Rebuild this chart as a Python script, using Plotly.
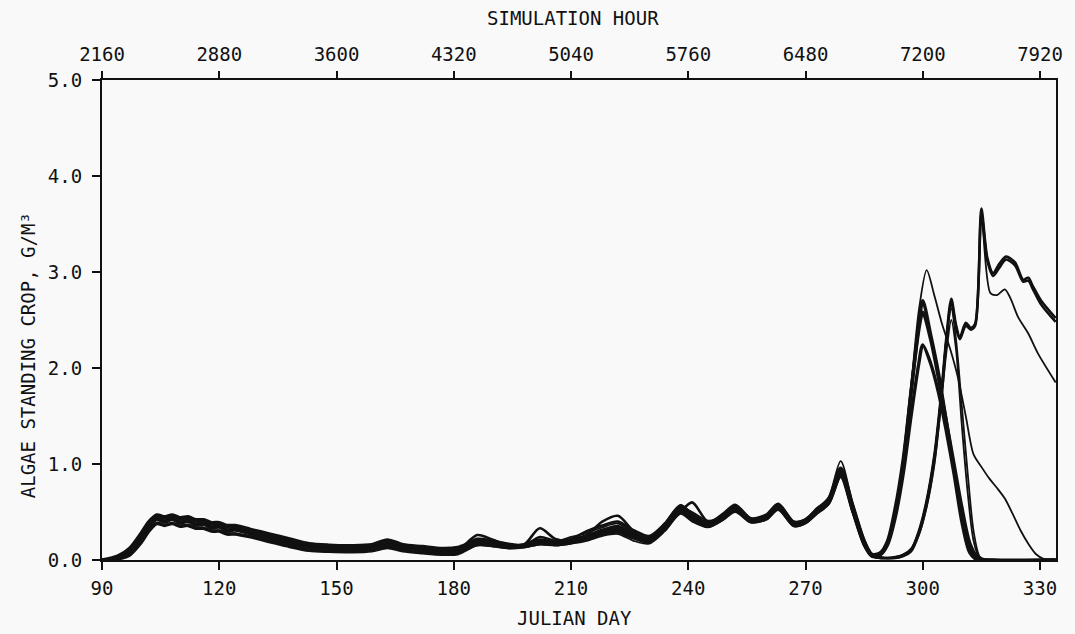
import plotly.graph_objects as go

# Julian days shared by every run up to the late-October crash
BUNDLE_DAYS = [90, 94, 97, 100, 102, 104, 106, 108, 110, 112, 114, 116, 118, 120, 122, 124,
               128, 133, 138, 143, 148, 154, 159, 163, 167, 172, 177, 181, 186, 190, 194, 198,
               202, 206, 210, 214, 218, 222, 226, 230, 234, 238, 241, 245, 249, 252, 256, 260,
               263, 267, 270, 273, 276, 279, 282, 285, 287]

# Algae standing crop (g/m3) for each simulation run, spring through early autumn
A1_BUNDLE = [0.00, 0.02, 0.08, 0.23, 0.35, 0.43, 0.40, 0.43, 0.39, 0.41, 0.37, 0.38, 0.34, 0.35, 0.31, 0.32,
             0.28, 0.23, 0.18, 0.14, 0.125, 0.12, 0.13, 0.17, 0.13, 0.11, 0.09, 0.10, 0.18, 0.16, 0.14, 0.15,
             0.19, 0.17, 0.19, 0.23, 0.29, 0.32, 0.25, 0.21, 0.34, 0.53, 0.44, 0.36, 0.45, 0.54, 0.41, 0.45,
             0.56, 0.37, 0.40, 0.51, 0.62, 0.92, 0.55, 0.18, 0.05]
A2_BUNDLE = [0.00, 0.04, 0.12, 0.28, 0.40, 0.47, 0.45, 0.47, 0.44, 0.45, 0.42, 0.42, 0.39, 0.39, 0.36, 0.36,
             0.32, 0.27, 0.22, 0.17, 0.155, 0.15, 0.16, 0.21, 0.16, 0.14, 0.12, 0.13, 0.20, 0.17, 0.15, 0.16,
             0.21, 0.18, 0.21, 0.25, 0.31, 0.35, 0.27, 0.23, 0.37, 0.56, 0.46, 0.38, 0.48, 0.57, 0.43, 0.47,
             0.58, 0.39, 0.42, 0.53, 0.64, 0.95, 0.58, 0.20, 0.06]
A3_BUNDLE = [0.00, 0.01, 0.05, 0.18, 0.30, 0.38, 0.36, 0.38, 0.35, 0.36, 0.33, 0.33, 0.30, 0.30, 0.27, 0.27,
             0.24, 0.19, 0.14, 0.10, 0.09, 0.085, 0.095, 0.13, 0.095, 0.075, 0.06, 0.065, 0.16, 0.15, 0.13, 0.14,
             0.17, 0.16, 0.18, 0.22, 0.27, 0.29, 0.23, 0.19, 0.32, 0.50, 0.42, 0.35, 0.43, 0.52, 0.40, 0.43,
             0.54, 0.36, 0.39, 0.50, 0.60, 0.88, 0.52, 0.16, 0.04]
A4_BUNDLE = [0.00, 0.02, 0.09, 0.24, 0.36, 0.44, 0.41, 0.44, 0.40, 0.42, 0.38, 0.39, 0.35, 0.36, 0.32, 0.33,
             0.29, 0.23, 0.18, 0.14, 0.13, 0.12, 0.13, 0.18, 0.13, 0.11, 0.09, 0.10, 0.19, 0.16, 0.14, 0.15,
             0.20, 0.17, 0.20, 0.24, 0.30, 0.33, 0.26, 0.22, 0.36, 0.55, 0.45, 0.37, 0.46, 0.55, 0.42, 0.46,
             0.57, 0.38, 0.41, 0.52, 0.66, 1.03, 0.60, 0.22, 0.06]
B1_BUNDLE = [0.00, 0.02, 0.08, 0.22, 0.34, 0.42, 0.39, 0.42, 0.38, 0.40, 0.36, 0.37, 0.33, 0.34, 0.30, 0.31,
             0.27, 0.22, 0.17, 0.13, 0.12, 0.115, 0.125, 0.16, 0.125, 0.105, 0.085, 0.10, 0.26, 0.21, 0.15, 0.16,
             0.33, 0.22, 0.20, 0.26, 0.40, 0.46, 0.30, 0.20, 0.33, 0.50, 0.60, 0.40, 0.44, 0.53, 0.41, 0.44,
             0.55, 0.36, 0.39, 0.50, 0.60, 0.90, 0.52, 0.16, 0.04]
B2_BUNDLE = [0.00, 0.03, 0.11, 0.27, 0.39, 0.46, 0.43, 0.46, 0.42, 0.44, 0.40, 0.40, 0.37, 0.37, 0.34, 0.34,
             0.31, 0.25, 0.20, 0.16, 0.145, 0.14, 0.15, 0.20, 0.15, 0.13, 0.11, 0.12, 0.22, 0.20, 0.17, 0.15,
             0.24, 0.20, 0.22, 0.30, 0.36, 0.40, 0.31, 0.25, 0.38, 0.57, 0.48, 0.39, 0.47, 0.56, 0.43, 0.46,
             0.58, 0.40, 0.42, 0.54, 0.63, 0.96, 0.57, 0.19, 0.05]
B3_BUNDLE = [0.00, 0.01, 0.06, 0.19, 0.31, 0.39, 0.37, 0.39, 0.36, 0.37, 0.34, 0.34, 0.31, 0.31, 0.28, 0.28,
             0.25, 0.20, 0.15, 0.11, 0.10, 0.095, 0.105, 0.14, 0.105, 0.085, 0.07, 0.075, 0.15, 0.14, 0.12, 0.13,
             0.16, 0.15, 0.17, 0.20, 0.25, 0.27, 0.20, 0.17, 0.30, 0.48, 0.40, 0.34, 0.42, 0.50, 0.39, 0.42,
             0.52, 0.35, 0.38, 0.48, 0.58, 0.86, 0.50, 0.15, 0.04]
B4_BUNDLE = [0.00, 0.02, 0.08, 0.23, 0.35, 0.43, 0.40, 0.43, 0.39, 0.41, 0.37, 0.37, 0.34, 0.34, 0.31, 0.31,
             0.28, 0.22, 0.17, 0.135, 0.12, 0.12, 0.13, 0.17, 0.13, 0.11, 0.09, 0.10, 0.21, 0.19, 0.16, 0.14,
             0.18, 0.19, 0.24, 0.28, 0.34, 0.38, 0.29, 0.23, 0.36, 0.54, 0.50, 0.41, 0.46, 0.55, 0.42, 0.45,
             0.57, 0.38, 0.41, 0.52, 0.61, 0.93, 0.54, 0.17, 0.05]
B5_BUNDLE = [0.00, 0.02, 0.08, 0.22, 0.34, 0.42, 0.40, 0.42, 0.38, 0.40, 0.36, 0.37, 0.33, 0.34, 0.30, 0.31,
             0.27, 0.22, 0.17, 0.13, 0.12, 0.115, 0.125, 0.16, 0.12, 0.10, 0.08, 0.09, 0.17, 0.15, 0.13, 0.14,
             0.18, 0.16, 0.18, 0.21, 0.28, 0.30, 0.24, 0.20, 0.33, 0.52, 0.43, 0.35, 0.44, 0.53, 0.40, 0.44,
             0.55, 0.37, 0.40, 0.51, 0.61, 0.91, 0.53, 0.17, 0.04]

# Autumn blooms: runs whose bloom peaks near day 300
A1_FALL_DAYS = [289, 291, 293, 295, 297, 299, 300, 302, 304, 306, 308, 310, 312, 314, 318, 334]
A1_FALL = [0.06, 0.18, 0.50, 1.00, 1.75, 2.45, 2.70, 2.35, 1.95, 1.45, 0.95, 0.45, 0.10, 0.01, 0.0, 0.0]
A2_FALL_DAYS = [289, 291, 293, 295, 297, 299, 300, 302, 304, 306, 308, 310, 312, 314, 316, 334]
A2_FALL = [0.07, 0.20, 0.55, 1.05, 1.75, 2.40, 2.58, 2.30, 1.90, 1.45, 1.00, 0.55, 0.18, 0.03, 0.0, 0.0]
A3_FALL_DAYS = [289, 291, 293, 295, 297, 299, 300, 302, 304, 306, 308, 310, 312, 314, 334]
A3_FALL = [0.05, 0.16, 0.45, 0.90, 1.50, 2.05, 2.24, 2.05, 1.75, 1.35, 0.90, 0.40, 0.08, 0.0, 0.0]
A4_FALL_DAYS = [289, 291, 293, 295, 297, 299, 301, 303, 305, 307, 309, 311, 313, 315, 317, 319, 321,
                323, 325, 327, 329, 331, 334]
A4_FALL = [0.07, 0.20, 0.55, 1.05, 1.80, 2.60, 3.02, 2.75, 2.45, 2.20, 1.90, 1.50, 1.10, 0.97, 0.85,
           0.75, 0.64, 0.48, 0.31, 0.17, 0.06, 0.01, 0.0]

# Autumn blooms: runs peaking near day 307, some followed by a second bloom
B1_FALL_DAYS = [289, 291, 293, 295, 297, 299, 301, 303, 304, 305, 306, 307.3, 308.5, 309.5, 311, 312.3,
                313.4, 315, 316.5, 318, 319.5, 321.3, 323.6, 325.7, 327, 328.2, 330.3, 334]
B1_FALL = [0.03, 0.02, 0.03, 0.05, 0.10, 0.30, 0.62, 1.10, 1.45, 1.85, 2.30, 2.72, 2.45, 2.32, 2.47, 2.42,
           2.46, 3.66, 3.15, 2.99, 3.08, 3.16, 3.10, 2.92, 2.94, 2.85, 2.70, 2.52]
B2_FALL_DAYS = [289, 291, 293, 295, 297, 299, 301, 303, 304, 305, 306, 307.3, 308.5, 309.5, 311, 312.3,
                313.4, 315, 316.5, 318, 319.5, 321.3, 323.6, 325.7, 327, 328.2, 330.3, 334]
B2_FALL = [0.02, 0.02, 0.02, 0.04, 0.09, 0.27, 0.58, 1.05, 1.40, 1.80, 2.25, 2.68, 2.42, 2.30, 2.44, 2.40,
           2.44, 3.60, 3.12, 2.96, 3.04, 3.13, 3.07, 2.90, 2.91, 2.82, 2.66, 2.48]
B3_FALL_DAYS = [289, 291, 293, 295, 297, 299, 301, 303, 304, 305, 306, 307.3, 308.5, 309.5, 311, 312.3,
                313.4, 315, 317.3, 319, 321, 322.5, 324.4, 327, 329.5, 334]
B3_FALL = [0.02, 0.02, 0.03, 0.05, 0.10, 0.28, 0.60, 1.08, 1.42, 1.82, 2.28, 2.70, 2.44, 2.31, 2.45, 2.41,
           2.45, 3.58, 2.78, 2.76, 2.82, 2.72, 2.53, 2.36, 2.15, 1.85]
B4_FALL_DAYS = [289, 291, 293, 295, 297, 299, 301, 303, 304, 305, 306, 307.3, 308.5, 310, 311.5, 313,
                314.5, 316, 334]
B4_FALL = [0.03, 0.02, 0.03, 0.06, 0.12, 0.30, 0.62, 1.10, 1.45, 1.85, 2.30, 2.62, 2.30, 1.60, 0.90, 0.30,
           0.04, 0.0, 0.0]
B5_FALL_DAYS = [289, 291, 293, 295, 297, 299, 301, 303, 304, 305, 306, 307.3, 308.5, 310, 311.5, 313,
                314.5, 316, 334]
B5_FALL = [0.02, 0.02, 0.02, 0.04, 0.10, 0.26, 0.55, 1.00, 1.35, 1.75, 2.15, 2.50, 2.20, 1.40, 0.70, 0.20,
           0.02, 0.0, 0.0]

DAY_TICKS = [90, 120, 150, 180, 210, 240, 270, 300, 330]
HOUR_TICKS = [2160, 2880, 3600, 4320, 5040, 5760, 6480, 7200, 7920]
CROP_TICKS = [0.0, 1.0, 2.0, 3.0, 4.0, 5.0]

DAY_MIN, DAY_MAX = 90, 334.09
HOURS_PER_DAY = 24

INK = "#111111"
FONT = "DejaVu Sans Mono"

runs = [
    (A1_BUNDLE, A1_FALL_DAYS, A1_FALL, 3.4),
    (A2_BUNDLE, A2_FALL_DAYS, A2_FALL, 3.4),
    (A3_BUNDLE, A3_FALL_DAYS, A3_FALL, 3.4),
    (A4_BUNDLE, A4_FALL_DAYS, A4_FALL, 1.8),
    (B1_BUNDLE, B1_FALL_DAYS, B1_FALL, 2.6),
    (B2_BUNDLE, B2_FALL_DAYS, B2_FALL, 2.6),
    (B3_BUNDLE, B3_FALL_DAYS, B3_FALL, 1.8),
    (B4_BUNDLE, B4_FALL_DAYS, B4_FALL, 1.8),
    (B5_BUNDLE, B5_FALL_DAYS, B5_FALL, 1.8),
]

fig = go.Figure()
for bundle, fall_days, fall, width in runs:
    fig.add_trace(go.Scatter(
        x=BUNDLE_DAYS + fall_days,
        y=bundle + fall,
        mode="lines",
        line=dict(color=INK, width=width, shape="spline", smoothing=0.8),
        showlegend=False,
        hoverinfo="skip",
    ))

# carrier trace for the simulation-hour axis along the top
fig.add_trace(go.Scatter(
    x=[HOUR_TICKS[0], HOUR_TICKS[-1]], y=[None, None],
    xaxis="x2", mode="lines", showlegend=False, hoverinfo="skip",
))

tick_font = dict(family=FONT, size=19, color=INK)
title_font = dict(family=FONT, size=19, color=INK)

fig.update_layout(
    width=1075, height=634,
    margin=dict(l=102, r=17, t=80, b=74),
    paper_bgcolor="#f9f9f9",
    plot_bgcolor="#f9f9f9",
    showlegend=False,
    xaxis=dict(
        range=[DAY_MIN, DAY_MAX],
        tickvals=DAY_TICKS,
        ticks="outside", ticklen=8, tickwidth=2, tickcolor=INK,
        showline=True, linecolor=INK, linewidth=2,
        showgrid=False, zeroline=False,
        tickfont=tick_font, ticklabelstandoff=2,
    ),
    xaxis2=dict(
        overlaying="x", side="top", anchor="y",
        range=[DAY_MIN * HOURS_PER_DAY, DAY_MAX * HOURS_PER_DAY],
        tickvals=HOUR_TICKS,
        ticks="outside", ticklen=7, tickwidth=2, tickcolor=INK,
        showline=True, linecolor=INK, linewidth=2,
        showgrid=False, zeroline=False,
        tickfont=tick_font, ticklabelstandoff=2,
    ),
    yaxis=dict(
        range=[0, 5],
        tickvals=CROP_TICKS,
        tickformat=".1f",
        ticks="outside", ticklen=8, tickwidth=2, tickcolor=INK,
        showline=True, linecolor=INK, linewidth=2, mirror=True,
        showgrid=False, zeroline=False,
        tickfont=tick_font, ticklabelstandoff=6,
    ),
    annotations=[
        dict(text="SIMULATION HOUR", xref="paper", yref="paper", x=0.494, y=1.129,
             xanchor="center", yanchor="middle", showarrow=False, font=title_font),
        dict(text="JULIAN DAY", xref="paper", yref="paper", x=0.495, y=-0.121,
             xanchor="center", yanchor="middle", showarrow=False, font=title_font),
        dict(text="ALGAE STANDING CROP, G/M³", xref="paper", yref="paper", x=-0.0774, y=0.427,
             xanchor="center", yanchor="middle", textangle=-90, showarrow=False, font=title_font),
    ],
)

fig.write_html("out.html")
